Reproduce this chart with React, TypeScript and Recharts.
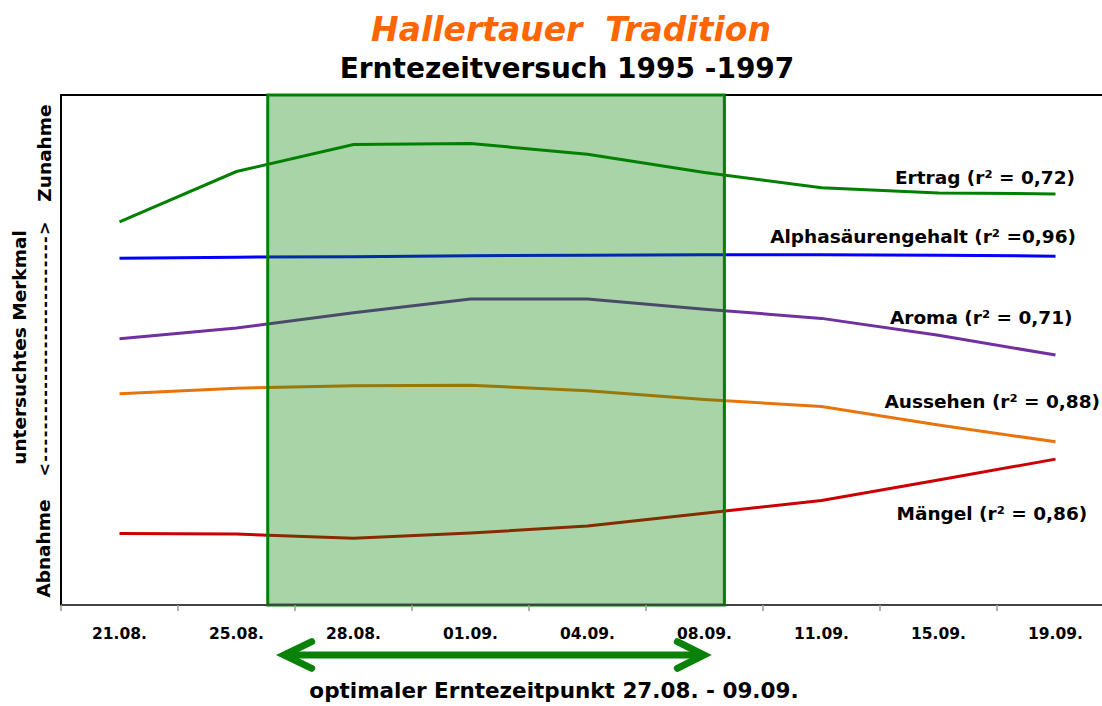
import React from 'react';
import { LineChart, Line, XAxis, YAxis, ReferenceArea } from 'recharts';

// ---- data ----
const dateLabels = ['21.08.', '25.08.', '28.08.', '01.09.', '04.09.', '08.09.', '11.09.', '15.09.', '19.09.'];
const ertrag = [75.1, 85.0, 90.3, 90.5, 88.4, 84.8, 81.8, 80.8, 80.6];
const alphasaeure = [68.0, 68.2, 68.3, 68.5, 68.6, 68.7, 68.7, 68.6, 68.4];
const aroma = [52.2, 54.3, 57.3, 60.0, 60.0, 58.0, 56.2, 52.9, 49.0];
const aussehen = [41.4, 42.5, 43.0, 43.1, 42.0, 40.3, 38.9, 35.3, 32.0];
const maengel = [14.0, 13.9, 13.1, 14.1, 15.5, 18.0, 20.5, 24.5, 28.6];

const seriesNames = ['Ertrag (r² = 0,72)', 'Alphasäurengehalt (r² =0,96)', 'Aroma (r² = 0,71)', 'Aussehen (r² = 0,88)', 'Mängel (r² = 0,86)'];
const titleText = 'Hallertauer  Tradition';
const subtitleText = 'Erntezeitversuch 1995 -1997';
const optimalText = 'optimaler Erntezeitpunkt 27.08. - 09.09.';
// optimal window in category units (27.08. .. 09.09.)
const optimalStart = 1.267;
const optimalEnd = 5.17;

const categoryIndex = dateLabels.map((_, i) => i);
const boundaryTicks = [...dateLabels.map((_, i) => i - 0.5), dateLabels.length - 0.5];

const data = dateLabels.map((d, i) => ({
  x: i,
  date: d,
  ertrag: ertrag[i],
  alpha: alphasaeure[i],
  aroma: aroma[i],
  aussehen: aussehen[i],
  maengel: maengel[i],
}));

const FONT = '"DejaVu Sans", Verdana, sans-serif';
const lastIndex = data.length - 1;

const makeEndLabel = (text: string, dx: number, dy: number, anchor: 'start' | 'end') => (props: any) => {
  const { x, y, index } = props;
  if (index !== lastIndex) return <g />;
  return (
    <text x={x + dx} y={y + dy} textAnchor={anchor} fontFamily={FONT} fontWeight="bold" fontSize={18.5} fill="#000">
      {text}
    </text>
  );
};

const EmptyTick = () => <g />;

const dashes = '<' + '-'.repeat(28) + '>';

export default function App() {
  return (
    <div style={{ position: 'fixed', left: 0, top: 0, width: 1102, height: 706, overflow: 'hidden', background: '#fff' }}>
      <LineChart width={1130} height={706} data={data} margin={{ top: 95, right: 16, bottom: 70, left: 61 }}>
        <XAxis
          xAxisId={0}
          type="number"
          dataKey="x"
          domain={[-0.5, 8.5]}
          ticks={boundaryTicks}
          interval={0}
          tick={EmptyTick}
          tickLine={{ stroke: '#999', strokeWidth: 1.5 }}
          tickSize={6}
          axisLine={{ stroke: '#444', strokeWidth: 2 }}
          height={1}
          allowDataOverflow
        />
        <XAxis
          xAxisId="labels"
          type="number"
          dataKey="x"
          domain={[-0.5, 8.5]}
          ticks={categoryIndex}
          interval={0}
          tickFormatter={(v: number) => dateLabels[v]}
          tickLine={false}
          axisLine={false}
          tickSize={6}
          tickMargin={16}
          height={30}
          tick={{ fontFamily: FONT, fontWeight: 'bold', fontSize: 15.5, fill: '#000' }}
        />
        <YAxis type="number" domain={[0, 100]} hide />
        <ReferenceArea x1={-0.5} x2={8.5} y1={0} y2={100} fill="none" stroke="#000" strokeWidth={2} ifOverflow="visible" />
        <Line type="linear" dataKey="ertrag" stroke="#008000" strokeWidth={3} dot={false} activeDot={false} isAnimationActive={false}
          label={makeEndLabel(seriesNames[0], 19.5, -10.4, 'end')} />
        <Line type="linear" dataKey="alpha" stroke="#0000FF" strokeWidth={3} dot={false} activeDot={false} isAnimationActive={false}
          label={makeEndLabel(seriesNames[1], 20.5, -13.3, 'end')} />
        <Line type="linear" dataKey="aroma" stroke="#7030A0" strokeWidth={3} dot={false} activeDot={false} isAnimationActive={false}
          label={makeEndLabel(seriesNames[2], 17, -31.3, 'end')} />
        <Line type="linear" dataKey="aussehen" stroke="#E8740E" strokeWidth={3} dot={false} activeDot={false} isAnimationActive={false}
          label={makeEndLabel(seriesNames[3], -171, -33.7, 'start')} />
        <Line type="linear" dataKey="maengel" stroke="#CC0000" strokeWidth={3} dot={false} activeDot={false} isAnimationActive={false}
          label={makeEndLabel(seriesNames[4], 31.8, 60.7, 'end')} />
        <ReferenceArea
          x1={optimalStart}
          x2={optimalEnd}
          y1={0}
          y2={100}
          fill="#008000"
          fillOpacity={0.34}
          stroke="#008000"
          strokeWidth={3}
          ifOverflow="visible"
          {...({ zIndex: 450 } as any)}
        />
      </LineChart>
      <svg width={1102} height={706} style={{ position: 'absolute', left: 0, top: 0, pointerEvents: 'none' }}>
        <text x={571} y={41} textAnchor="middle" fontFamily={FONT} fontWeight="bold" fontStyle="italic" fontSize={33} fill="#FF6600" style={{ whiteSpace: 'pre' }}>
          {titleText}
        </text>
        <text x={567} y={78} textAnchor="middle" fontFamily={FONT} fontWeight="bold" fontSize={28} fill="#000">
          {subtitleText}
        </text>
        <text x={51} y={153} textAnchor="middle" fontFamily={FONT} fontWeight="bold" fontSize={18.5} fill="#000" transform="rotate(-90 51 153)">
          Zunahme
        </text>
        <text x={50} y={548.5} textAnchor="middle" fontFamily={FONT} fontWeight="bold" fontSize={18.5} fill="#000" transform="rotate(-90 50 548.5)">
          Abnahme
        </text>
        <text x={50} y={349} textAnchor="middle" fontFamily={FONT} fontWeight="bold" fontSize={16} fill="#000" transform="rotate(-90 50 349)"
          textLength={255} lengthAdjust="spacing">
          {dashes}
        </text>
        <text x={26} y={347.5} textAnchor="middle" fontFamily={FONT} fontWeight="bold" fontSize={18.5} fill="#000" transform="rotate(-90 26 347.5)">
          untersuchtes Merkmal
        </text>
        <line x1={287} y1={655} x2={701} y2={655} stroke="#0A820A" strokeWidth={7} strokeLinecap="round" />
        <polyline points="311.7,641.7 284,655 311.7,668.3" fill="none" stroke="#0A820A" strokeWidth={7} strokeLinecap="round" strokeLinejoin="miter" />
        <polyline points="677.3,641.7 704,655 677.3,668.3" fill="none" stroke="#0A820A" strokeWidth={7} strokeLinecap="round" strokeLinejoin="miter" />
        <text x={554} y={698} textAnchor="middle" fontFamily={FONT} fontWeight="bold" fontSize={21.5} fill="#000">
          {optimalText}
        </text>
      </svg>
    </div>
  );
}
